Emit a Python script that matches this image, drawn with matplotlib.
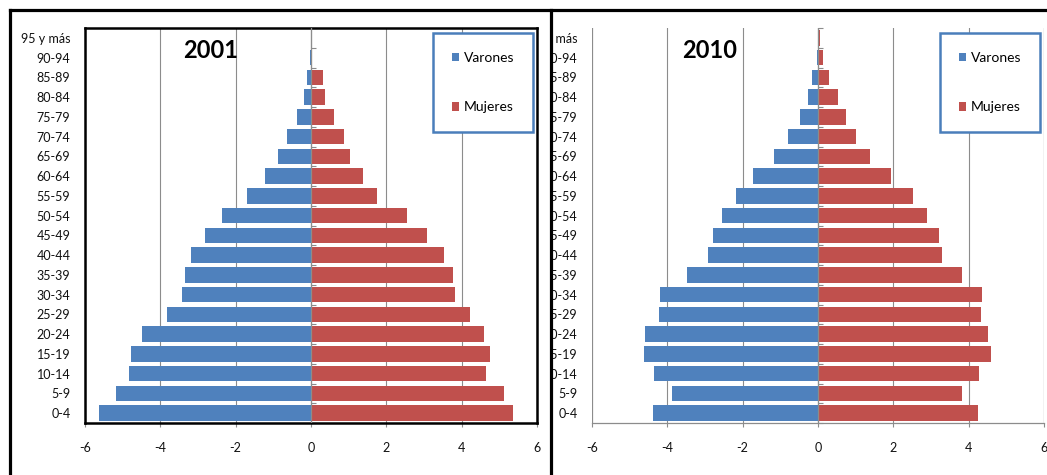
import numpy as np
import matplotlib
matplotlib.use("Agg")
import matplotlib.pyplot as plt
from matplotlib.lines import Line2D
from matplotlib.patches import Rectangle

plt.rcParams['font.family'] = ['Lato', 'DejaVu Sans']

categories = ['0-4', '5-9', '10-14', '15-19', '20-24', '25-29', '30-34', '35-39',
              '40-44', '45-49', '50-54', '55-59', '60-64', '65-69', '70-74',
              '75-79', '80-84', '85-89', '90-94', '95 y más']

varones_2001 = [-5.62, -5.17, -4.84, -4.79, -4.49, -3.81, -3.43, -3.34, -3.18, -2.81,
                -2.37, -1.69, -1.22, -0.88, -0.65, -0.37, -0.18, -0.11, -0.02, -0.01]
mujeres_2001 = [5.36, 5.12, 4.65, 4.74, 4.58, 4.21, 3.81, 3.77, 3.54, 3.09,
                2.56, 1.75, 1.37, 1.03, 0.87, 0.60, 0.38, 0.31, 0.03, 0.01]

varones_2010 = [-4.38, -3.87, -4.35, -4.63, -4.59, -4.22, -4.19, -3.49, -2.91, -2.79,
                -2.54, -2.19, -1.72, -1.18, -0.79, -0.48, -0.26, -0.15, -0.03, -0.01]
mujeres_2010 = [4.25, 3.81, 4.28, 4.59, 4.51, 4.32, 4.35, 3.81, 3.30, 3.20,
                2.89, 2.53, 1.93, 1.37, 1.02, 0.74, 0.53, 0.28, 0.12, 0.04]

x_ticks = [-6, -4, -2, 0, 2, 4, 6]
legend_labels = ['Varones', 'Mujeres']
years = ['2001', '2010']

BLUE = '#4F81BD'
RED = '#C0504D'
GRID = '#8C8C8C'

W, H = 1047, 475
fig = plt.figure(figsize=(W / 100, H / 100), dpi=100)
fig.patch.set_facecolor('white')


def fx(px):
    return px / W


def fy(py):
    return 1 - py / H


def draw_panel(ax, men, women, year, boxed):
    y = np.arange(len(categories))
    ax.set_axisbelow(True)
    bm = ax.barh(y, men, height=0.79, color=BLUE, edgecolor='none', zorder=3)
    bw = ax.barh(y, women, height=0.79, color=RED, edgecolor='none', zorder=3)
    ax.set_xlim(-6, 6)
    ax.set_ylim(-0.5, len(categories) - 0.5)
    ax.set_xticks(x_ticks)
    ax.set_xticklabels([str(t) for t in x_ticks], fontsize=9, color='#111111')
    ax.set_yticks(y)
    ax.set_yticklabels(categories, fontsize=9, color='#111111')
    ax.tick_params(axis='y', length=0, pad=10.5)
    ax.tick_params(axis='x', length=3, color=GRID, pad=11, direction='out')
    ax.xaxis.grid(True, color=GRID, linewidth=0.8)
    if not boxed:
        for v in (-6, 6):
            ax.axvline(v, color=GRID, linewidth=0.8, zorder=1)
    if boxed:
        for s in ax.spines.values():
            s.set_color('black')
            s.set_linewidth(1.8)
    else:
        for s in ('top', 'right', 'left'):
            ax.spines[s].set_visible(False)
        ax.spines['bottom'].set_color(GRID)
        ax.spines['bottom'].set_linewidth(0.9)
    # zero axis with category tick marks
    ax.axvline(0, color=GRID, linewidth=0.9, zorder=4)
    sec = ax.secondary_yaxis(0.5)
    sec.set_yticks(np.arange(-0.5, len(categories), 1.0))
    sec.set_yticklabels([])
    sec.tick_params(length=3.5, color=GRID, width=0.8)
    for s in sec.spines.values():
        s.set_visible(False)

    ax.text(0.277 if boxed else 0.261, 0.942, year, transform=ax.transAxes,
            ha='center', va='center', fontsize=17, fontweight='bold', zorder=6)

    leg = ax.legend([bm, bw], legend_labels, loc='upper left',
                    bbox_to_anchor=(0.770, 0.987), borderaxespad=0,
                    fontsize=10, handlelength=0.55, handleheight=0.55,
                    handletextpad=0.3, borderpad=1.35, labelspacing=2.7,
                    fancybox=False, framealpha=1, edgecolor='#4A7EBB')
    leg.get_frame().set_linewidth(1.8)
    leg.set_zorder(7)


ax_w = 452 / W
ax_h = 395 / H
ax_b = 1 - 423 / H

ax2 = fig.add_axes([592 / W, ax_b, ax_w, ax_h], zorder=0)
draw_panel(ax2, varones_2010, mujeres_2010, years[1], boxed=False)

# white cover for the left panel region (clips right-panel labels)
fig.patches.append(Rectangle((0, 0), fx(551), 1, transform=fig.transFigure,
                             facecolor='white', edgecolor='none', zorder=1))

ax1 = fig.add_axes([85 / W, ax_b, ax_w, ax_h], zorder=2)
draw_panel(ax1, varones_2001, mujeres_2001, years[0], boxed=True)

# outer frame lines
for (x0, y0, x1, y1) in [(10, 10, 1047, 10), (10, 10, 10, 475), (551, 10, 551, 475)]:
    fig.add_artist(Line2D([fx(x0), fx(x1)], [fy(y0), fy(y1)], color='black',
                          linewidth=2.3, transform=fig.transFigure, zorder=10))

fig.savefig('out.png', dpi=100, facecolor='white')
